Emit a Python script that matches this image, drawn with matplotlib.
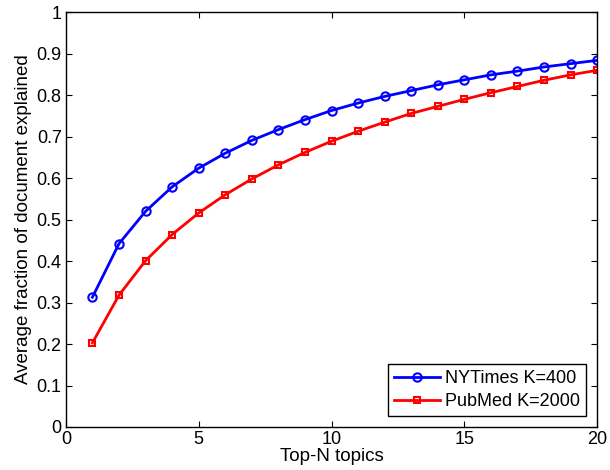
import matplotlib
matplotlib.use("Agg")
import matplotlib.pyplot as plt

# ---- data ----
top_n = list(range(1, 21))
nytimes = [0.313, 0.442, 0.520, 0.579, 0.624, 0.660, 0.691, 0.717, 0.741, 0.763,
           0.781, 0.797, 0.811, 0.825, 0.837, 0.849, 0.858, 0.868, 0.876, 0.884]
pubmed = [0.203, 0.318, 0.401, 0.464, 0.516, 0.560, 0.598, 0.632, 0.662, 0.689,
          0.713, 0.735, 0.756, 0.773, 0.790, 0.806, 0.821, 0.836, 0.849, 0.860]
labels = ["NYTimes K=400", "PubMed K=2000"]

plt.rcParams['font.family'] = ['Liberation Sans', 'DejaVu Sans']
plt.rcParams['font.size'] = 13

fig = plt.figure(figsize=(6.1, 4.7), dpi=100)
ax = fig.add_axes([0.108, 0.0915, 0.871, 0.8825])

ax.plot(top_n, nytimes, color='blue', lw=2, marker='o', ms=6,
        mfc='none', mew=1.5, label=labels[0])
ax.plot(top_n, pubmed, color='red', lw=2, marker='s', ms=5,
        mfc='none', mew=1.5, label=labels[1])

ax.set_xlim(0, 20)
ax.set_ylim(0, 1)
ax.set_xticks([0, 5, 10, 15, 20])
ax.set_yticks([i / 10 for i in range(11)])
ax.set_yticklabels(['0', '0.1', '0.2', '0.3', '0.4', '0.5', '0.6', '0.7', '0.8', '0.9', '1'])
ax.tick_params(direction='in', top=True, right=True, length=4, width=0.8,
               pad=3, labelsize=13)
for s in ax.spines.values():
    s.set_linewidth(1)

ax.set_xlabel("Top-N topics", fontsize=13.5, labelpad=0)
ax.set_ylabel("Average fraction of document explained", fontsize=13.5, labelpad=3)

leg = ax.legend(loc='lower right', fancybox=False, edgecolor='black',
                framealpha=1, borderaxespad=0.6, handlelength=2.5,
                handletextpad=0.3, borderpad=0.35, labelspacing=0.3,
                fontsize=13)
leg.get_frame().set_linewidth(1)

fig.savefig("out.png", dpi=100)
